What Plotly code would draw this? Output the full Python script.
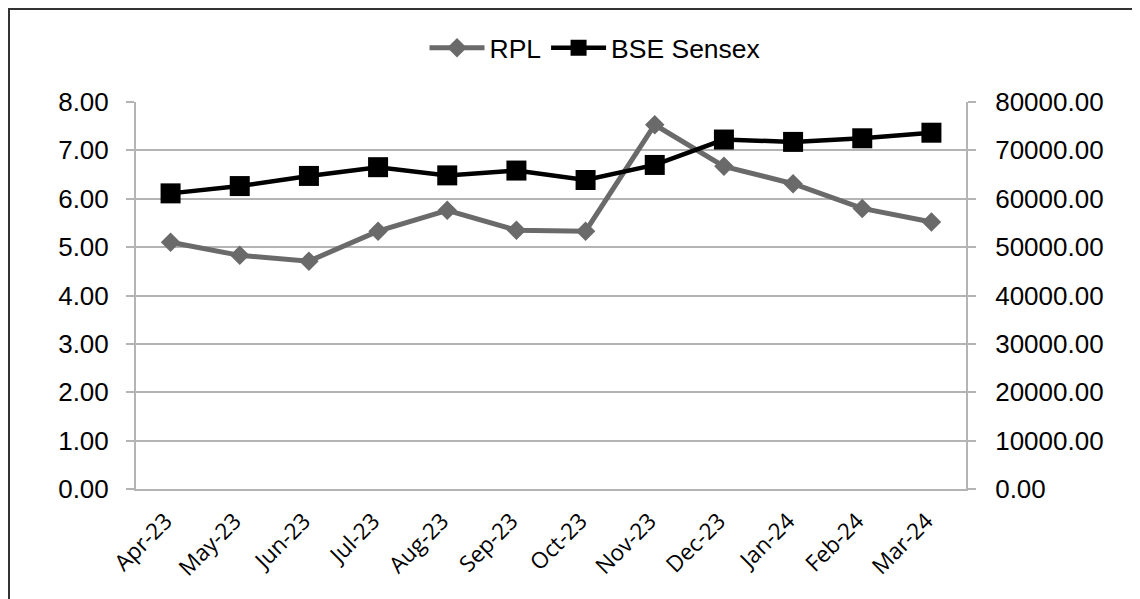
import plotly.graph_objects as go

months = ["Apr-23", "May-23", "Jun-23", "Jul-23", "Aug-23", "Sep-23",
          "Oct-23", "Nov-23", "Dec-23", "Jan-24", "Feb-24", "Mar-24"]
rpl = [5.10, 4.83, 4.71, 5.33, 5.76, 5.35, 5.33, 7.53, 6.67, 6.31, 5.80, 5.52]
sensex = [61112, 62622, 64718, 66527, 64831, 65828, 63875, 66988,
          72240, 71752, 72500, 73651]
left_ticks = [0, 1, 2, 3, 4, 5, 6, 7, 8]
right_ticks = [0, 10000, 20000, 30000, 40000, 50000, 60000, 70000, 80000]

# page body has an 8px default margin; figure coords = page coords - 8
OFF = 8
W, H = 1140, 599
ML, MT = 136 - OFF, 102 - OFF
PR, PB = 966 - OFF, 489 - OFF
MR, MB = W - PR, H - PB
PW, PH = PR - ML, PB - MT

GRID = "#b4b4b4"
FONT = "Liberation Sans, Arial, sans-serif"

fig = go.Figure()
fig.add_trace(go.Scatter(
    x=months, y=rpl, name="RPL", mode="lines+markers",
    line=dict(color="#6a6a6a", width=5),
    marker=dict(symbol="diamond", size=15, color="#6a6a6a"),
    yaxis="y"))
fig.add_trace(go.Scatter(
    x=months, y=sensex, name="BSE Sensex", mode="lines+markers",
    line=dict(color="#000000", width=4.5),
    marker=dict(symbol="square", size=20, color="#000000"),
    yaxis="y2"))

def px_x(p):
    return (p - OFF - ML) / PW

def px_y(p):
    return (PB - (p - OFF)) / PH

fig.add_shape(type="rect", xref="paper", yref="paper",
              x0=px_x(9), x1=px_x(1250), y0=px_y(700), y1=px_y(9),
              line=dict(color="#333333", width=2), fillcolor="rgba(0,0,0,0)",
              layer="above")

fig.update_layout(
    width=W, height=H,
    margin=dict(l=ML, r=MR, t=MT, b=MB, autoexpand=False),
    paper_bgcolor="white", plot_bgcolor="white",
    font=dict(family=FONT, size=26, color="#000000"),
    showlegend=True,
    legend=dict(orientation="h", x=px_x(595), xanchor="center",
                y=px_y(48), yanchor="middle",
                font=dict(family=FONT, size=26.5),
                itemwidth=55, tracegroupgap=0,
                bgcolor="rgba(0,0,0,0)"),
    xaxis=dict(type="category", range=[-0.5, len(months) - 0.5],
               showgrid=False, showline=True,
               linecolor=GRID, linewidth=2, ticks="",
               tickangle=-45,
               tickfont=dict(family="Open Sans, sans-serif", size=22.5),
               ticklabelstandoff=8, ticklabelshift=-5, zeroline=False),
    yaxis=dict(range=[0, 8], tickvals=left_ticks, tickformat=".2f",
               showgrid=True, gridcolor=GRID, gridwidth=2,
               showline=True, linecolor=GRID, linewidth=2,
               ticks="outside", ticklen=8, tickcolor=GRID, tickwidth=2,
               ticklabelstandoff=12, zeroline=False,
               tickfont=dict(family=FONT, size=26)),
    yaxis2=dict(range=[0, 80000], tickvals=right_ticks, tickformat=".2f",
                overlaying="y", side="right", showgrid=False,
                showline=True, linecolor=GRID, linewidth=2,
                ticks="outside", ticklen=8, tickcolor=GRID, tickwidth=2,
                ticklabelstandoff=14, zeroline=False,
                tickfont=dict(family=FONT, size=26)),
)

fig.write_html("out.html")
